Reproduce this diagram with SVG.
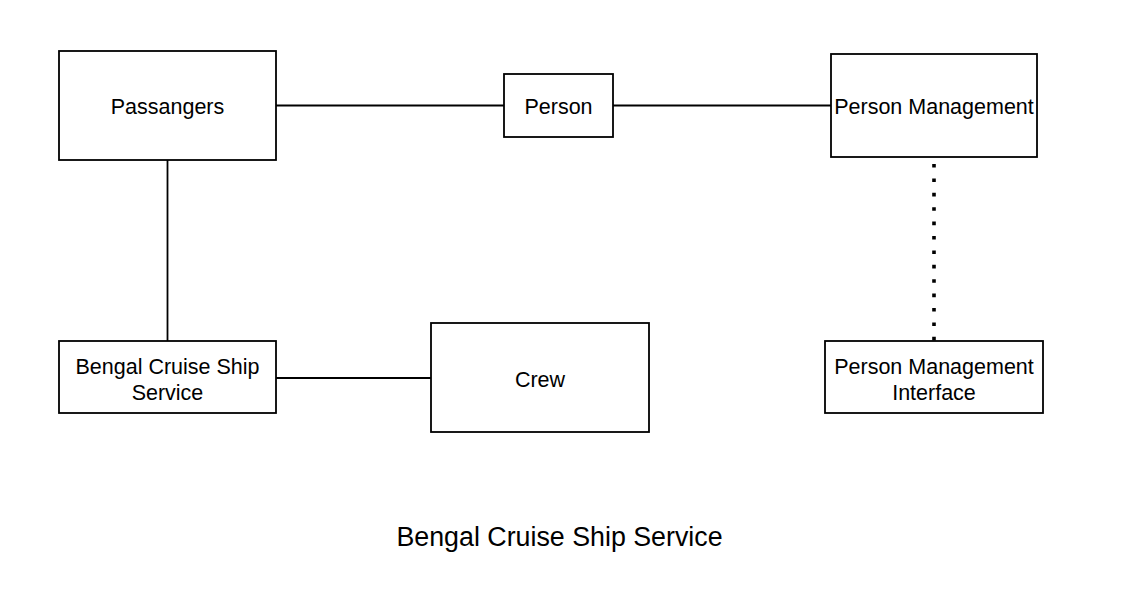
<svg xmlns="http://www.w3.org/2000/svg" width="1125" height="610" viewBox="0 0 1125 610">
<style>
.box{fill:#ffffff;stroke:#000000;stroke-width:1.8}
.lbl{font-family:"Liberation Sans",Arial,sans-serif;font-size:21.5px;fill:#000000;text-anchor:middle;dominant-baseline:central}
.edge{stroke:#000000;stroke-width:1.8;fill:none}
.dot{stroke:#000000;stroke-width:3.6;fill:none;stroke-dasharray:3.6 10.8}
.title{font-family:"Liberation Sans",Arial,sans-serif;font-size:26.8px;fill:#000000;text-anchor:middle;dominant-baseline:central}
</style>
<rect width="1125" height="610" fill="#ffffff"/>
<g id="connectors">
<line class="edge" x1="276" y1="105.5" x2="504" y2="105.5"/>
<line class="edge" x1="613" y1="105.5" x2="831" y2="105.5"/>
<line class="edge" x1="167.5" y1="160" x2="167.5" y2="341"/>
<line class="edge" x1="276" y1="378" x2="431" y2="378"/>
<line class="dot" x1="934" y1="164" x2="934" y2="341"/>
</g>
<g id="passangers">
<rect class="box" x="59" y="51" width="217" height="109"/>
<text class="lbl" x="167.5" y="107">Passangers</text>
</g>
<g id="person">
<rect class="box" x="504" y="74" width="109" height="63"/>
<text class="lbl" x="558.5" y="107">Person</text>
</g>
<g id="person-management">
<rect class="box" x="831" y="54" width="206" height="103"/>
<text class="lbl" x="934" y="107">Person Management</text>
</g>
<g id="bengal-service">
<rect class="box" x="59" y="341" width="217" height="72"/>
<text class="lbl" x="167.5" y="367">Bengal Cruise Ship</text>
<text class="lbl" x="167.5" y="393">Service</text>
</g>
<g id="crew">
<rect class="box" x="431" y="323" width="218" height="109"/>
<text class="lbl" x="540" y="380">Crew</text>
</g>
<g id="person-management-interface">
<rect class="box" x="825" y="341" width="218" height="72"/>
<text class="lbl" x="934" y="367">Person Management</text>
<text class="lbl" x="934" y="393">Interface</text>
</g>
<g id="title">
<text class="title" x="559.5" y="536.5">Bengal Cruise Ship Service</text>
</g>
</svg>
